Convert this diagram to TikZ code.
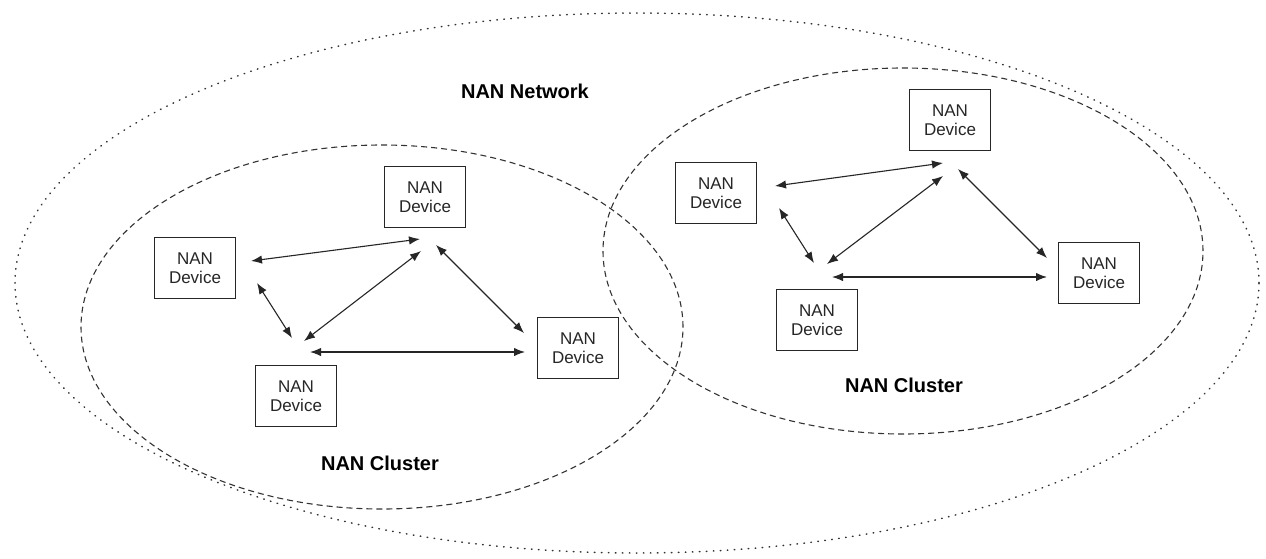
\documentclass[tikz,border=0pt]{standalone}
\usepackage{fontspec}
\setmainfont{Liberation Sans}
\usetikzlibrary{arrows.meta,calc}

\tikzset{
  devbox/.style={draw=black!85, line width=0.65pt, minimum width=40.5pt, minimum height=30.5pt,
    inner sep=0pt, align=center, font=\fontsize{8.5}{9.6}\selectfont, text=black!85},
  biarrow/.style={{Latex[length=5.5pt,width=4.2pt]}-{Latex[length=5.5pt,width=4.2pt]}, line width=0.55pt, black!85},
  netline/.style={black!80, line width=0.75pt, line cap=round, dash pattern=on 0.3pt off 3.2pt},
  clusterline/.style={black!80, line width=0.55pt, dash pattern=on 3pt off 2pt},
  grouplabel/.style={font=\bfseries\fontsize{10}{12}\selectfont}
}

\begin{document}
\begin{tikzpicture}[x=0.5pt, y=-0.5pt]
  % canvas
  \path[use as bounding box, fill=white] (0,0) rectangle (1266,558);

  % network and cluster outlines
  \draw[netline] (637,283) ellipse [x radius=311pt, y radius=135pt];
  \draw[clusterline] (382,327) ellipse [x radius=150.5pt, y radius=91pt];
  \draw[clusterline] (903,251) ellipse [x radius=150pt, y radius=91.5pt];

  % group labels
  \node[grouplabel] (netlbl) at (525,91) {NAN Network};
  \node[grouplabel] (lclbl) at (380,463) {NAN Cluster};
  \node[grouplabel] (rclbl) at (904,385) {NAN Cluster};

  % left cluster devices
  \node[devbox] (lt) at (425,197) {NAN\\Device};
  \node[devbox] (ll) at (195,268) {NAN\\Device};
  \node[devbox] (lb) at (296,396) {NAN\\Device};
  \node[devbox] (lr) at (578,348) {NAN\\Device};

  % right cluster devices
  \node[devbox] (rt) at (950,120) {NAN\\Device};
  \node[devbox] (rl) at (716,193) {NAN\\Device};
  \node[devbox] (rb) at (817,320) {NAN\\Device};
  \node[devbox] (rr) at (1099,273) {NAN\\Device};

  % link end points, left cluster
  \coordinate (ll-t) at (251,261);  \coordinate (lt-l) at (420,239);
  \coordinate (ll-b) at (257,283);  \coordinate (lb-l) at (292,338);
  \coordinate (lb-t) at (304,341);  \coordinate (lt-b) at (421,251);
  \coordinate (lb-r) at (310,352);  \coordinate (lr-b) at (525,352);
  \coordinate (lt-r) at (436,245);  \coordinate (lr-t) at (524,333);

  % link end points, right cluster
  \coordinate (rl-t) at (775,186);  \coordinate (rt-l) at (943,163);
  \coordinate (rl-b) at (779,208);  \coordinate (rb-l) at (814,263);
  \coordinate (rb-t) at (827,264);  \coordinate (rt-b) at (943,176);
  \coordinate (rb-r) at (832,277);  \coordinate (rr-b) at (1047,277);
  \coordinate (rt-r) at (958,169);  \coordinate (rr-t) at (1047,258);

  % links
  \draw[biarrow] (ll-t) -- (lt-l);
  \draw[biarrow] (ll-b) -- (lb-l);
  \draw[biarrow] (lb-t) -- (lt-b);
  \draw[biarrow] (lb-r) -- (lr-b);
  \draw[biarrow] (lt-r) -- (lr-t);

  \draw[biarrow] (rl-t) -- (rt-l);
  \draw[biarrow] (rl-b) -- (rb-l);
  \draw[biarrow] (rb-t) -- (rt-b);
  \draw[biarrow] (rb-r) -- (rr-b);
  \draw[biarrow] (rt-r) -- (rr-t);
\end{tikzpicture}
\end{document}
